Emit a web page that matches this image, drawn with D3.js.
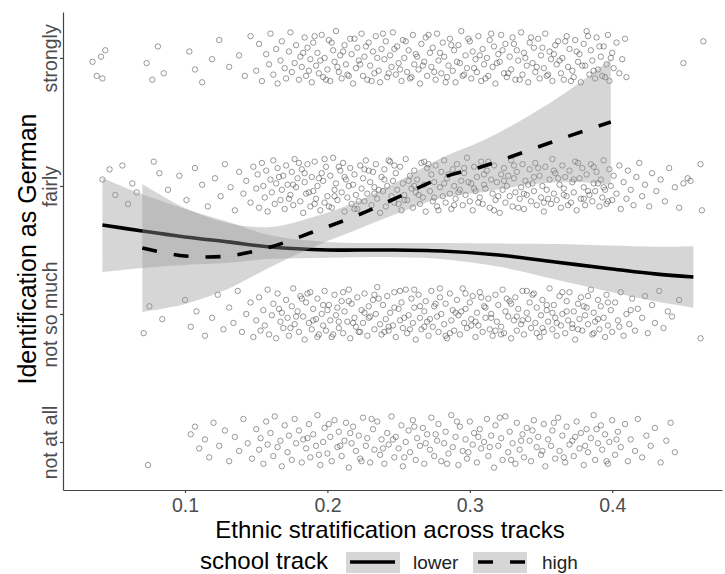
<!DOCTYPE html>
<html><head><meta charset="utf-8">
<script src="https://cdnjs.cloudflare.com/ajax/libs/d3/7.8.5/d3.min.js"></script>
<style>body{margin:0;background:#fff}svg{display:block;font-family:"Liberation Sans",Arial,sans-serif}</style>
</head><body><svg id="c" width="725" height="574"></svg>
<script>
const xTicks=[0.1,0.2,0.3,0.4];
const yLevels=[1,2,3,4];
const yLabels=["not at all","not so much","fairly","strongly"];
const trackNames=["lower","high"];
const xTitle="Ethnic stratification across tracks";
const yTitle="Identification as German";
const legendTitle="school track";

// smoother: lower track (solid)
const lowerX=[0.042,0.07,0.1,0.13,0.16,0.2,0.24,0.28,0.32,0.36,0.4,0.43,0.457];
const lowerFit=[2.695,2.648,2.602,2.563,2.523,2.5,2.5,2.492,2.461,2.406,2.352,2.313,2.289];
const lowerLo=[2.328,2.36,2.383,2.40,2.43,2.44,2.445,2.43,2.37,2.27,2.17,2.10,2.05];
const lowerHi=[3.063,2.935,2.82,2.72,2.615,2.563,2.555,2.555,2.55,2.547,2.535,2.525,2.53];
// smoother: high track (dashed)
const highX=[0.07,0.1,0.13,0.16,0.19,0.22,0.25,0.28,0.31,0.34,0.37,0.399];
const highFit=[2.516,2.453,2.453,2.523,2.641,2.766,2.914,3.063,3.156,3.273,3.391,3.5];
const highLo=[2.016,2.078,2.195,2.367,2.524,2.657,2.789,2.907,2.953,3.007,3.032,3.008];
const highHi=[3.016,2.828,2.711,2.679,2.758,2.875,3.039,3.219,3.359,3.539,3.75,3.992];

// jittered observations [x, jittered level]
const ptsStrongly=[[.035,3.97],[.038,3.86],[.041,4.01],[.042,3.84],[.044,4.06],[.073,3.96],[.077,3.83],[.081,4.09],[.085,3.88],[.103,4.05],
[.107,3.91],[.112,3.81],[.119,3.99],[.124,4.14],[.131,3.93],[.138,4.02],[.142,3.86],[.146,4.17],
[.150,3.90],[.152,4.11],[.154,3.82],[.157,4.03],[.159,3.95],[.160,4.19],[.162,3.87],[.164,4.07],[.165,3.80],[.167,3.98],
[.168,4.13],[.170,3.92],[.171,3.84],[.173,4.05],[.174,4.20],[.175,3.89],[.177,3.96],[.178,4.10],[.180,3.83],[.181,4.01],
[.182,3.93],[.184,4.16],[.185,3.86],[.186,4.08],[.188,3.99],[.189,3.81],[.190,4.12],[.192,3.94],[.193,4.04],[.194,3.88],
[.196,4.18],[.197,3.85],[.198,4.00],[.200,3.91],[.201,4.14],[.202,3.82],[.204,4.06],[.205,3.97],[.206,4.21],[.208,3.89],
[.209,4.02],[.210,3.84],[.212,4.10],[.213,3.95],[.214,3.87],[.216,4.15],[.217,4.03],[.218,3.80],[.220,3.92],[.221,4.08],
[.222,3.98],[.224,4.19],[.225,3.86],[.226,4.01],[.228,3.83],[.229,4.12],[.230,3.94],[.232,4.05],[.233,3.88],[.234,4.17],
[.236,3.90],[.237,3.81],[.238,4.07],[.240,3.99],[.241,4.13],[.242,3.85],[.244,4.02],[.245,3.93],[.246,4.20],[.248,3.87],
[.249,4.09],[.250,3.96],[.252,3.82],[.253,4.14],[.254,4.00],[.256,3.89],[.257,4.06],[.258,3.84],[.260,4.18],[.261,3.95],
[.262,4.03],[.264,3.91],[.265,3.80],[.266,4.11],[.268,3.97],[.269,4.16],[.270,3.86],[.272,4.04],[.273,3.93],[.274,4.08],
[.276,3.83],[.277,4.19],[.278,3.98],[.280,3.88],[.281,4.12],[.282,4.01],[.284,3.85],[.285,3.94],[.286,4.15],[.288,3.90],
[.289,4.06],[.290,3.81],[.292,4.10],[.293,3.96],[.294,4.21],[.296,3.87],[.297,4.02],[.298,3.92],[.300,4.13],[.301,3.84],
[.302,4.05],[.304,3.99],[.305,3.89],[.306,4.17],[.308,3.82],[.309,4.07],[.310,3.95],[.312,4.00],[.313,3.86],[.314,4.14],
[.316,3.93],[.317,4.09],[.318,3.80],[.320,4.03],[.321,3.97],[.322,4.18],[.324,3.88],[.325,4.11],[.326,3.85],[.328,4.01],
[.329,3.91],[.330,4.16],[.332,3.83],[.333,4.06],[.334,3.98],[.336,4.20],[.337,3.87],[.338,4.04],[.340,3.94],[.341,3.81],
[.342,4.12],[.344,3.96],[.345,4.08],[.346,3.89],[.348,4.15],[.349,3.84],[.350,4.02],[.352,3.92],[.353,4.19],[.354,3.86],
[.356,4.05],[.357,3.99],[.358,3.82],[.360,4.10],[.361,3.95],[.362,4.13],[.364,3.88],[.365,4.00],[.366,3.83],[.368,4.17],
[.369,3.93],[.370,4.07],[.372,3.90],[.373,3.85],[.374,4.14],[.376,3.97],[.377,4.03],[.378,3.81],[.380,4.11],[.381,3.94],
[.382,4.21],[.384,3.87],[.385,4.06],[.386,3.98],[.388,3.84],[.389,4.16],[.390,3.91],[.392,4.01],[.393,3.86],[.394,4.09],
[.396,3.95],[.397,4.18],[.398,3.82],[.400,4.04],[.401,3.92],[.403,4.12],[.405,3.88],[.407,3.99],[.409,4.15],[.410,3.85],
[.450,3.96],[.464,4.13],
[.183,4.04],[.187,3.90],[.191,4.17],[.195,3.98],[.199,3.83],[.203,4.12],[.207,3.93],[.211,4.05],[.215,3.86],[.219,4.15],
[.223,3.95],[.227,4.09],[.231,3.82],[.235,4.00],[.239,4.19],[.243,3.88],[.247,4.07],[.251,3.91],[.255,4.13],[.259,3.85],
[.263,4.01],[.267,3.94],[.271,4.18],[.275,3.89],[.279,4.04],[.283,3.81],[.287,4.10],[.291,3.97],[.295,3.86],[.299,4.15],
[.303,3.92],[.307,4.02],[.311,3.84],[.315,4.19],[.319,3.96],[.323,4.06],[.327,3.88],[.331,4.11],[.335,3.83],[.339,4.00],
[.343,4.16],[.347,3.93],[.351,4.08],[.355,3.87],[.359,4.03],[.363,3.98],[.367,4.13],[.371,3.82],[.375,4.05],[.379,3.94],
[.383,4.17],[.387,3.90],[.391,4.09],[.395,3.85],[.399,4.00]];

const ptsFairly=[[.042,3.05],[.047,3.13],[.051,2.93],[.056,3.16],[.060,2.86],[.063,3.02],[.066,2.95],[.078,3.19],[.082,3.10],[.088,2.97],
[.096,3.08],[.101,2.89],[.107,3.14],[.112,3.01],[.116,2.84],[.121,3.06],[.125,2.92],[.128,3.17],[.132,2.99],[.135,2.81],
[.138,3.11],[.141,2.94],[.143,3.04],[.146,2.87],[.148,3.15],
[.150,2.98],[.151,3.09],[.152,2.83],[.154,3.18],[.155,3.00],[.156,2.91],[.157,3.12],[.158,2.80],[.160,3.05],[.161,2.95],
[.162,3.20],[.163,2.86],[.164,3.02],[.165,3.14],[.167,2.89],[.168,2.97],[.169,3.08],[.170,2.82],[.171,3.16],[.172,3.01],
[.174,2.93],[.175,3.11],[.176,2.85],[.177,3.21],[.178,2.99],[.179,3.06],[.181,2.88],[.182,3.13],[.183,2.79],[.184,3.03],
[.185,2.94],[.186,3.17],[.188,2.84],[.189,3.07],[.190,2.96],[.191,3.19],[.192,2.90],[.193,3.00],[.195,2.81],[.196,3.10],
[.197,3.04],[.198,2.87],[.199,3.15],[.200,2.92],[.202,3.08],[.203,2.83],[.204,3.22],[.205,2.97],[.206,3.02],[.207,2.89],
[.209,3.12],[.210,2.95],[.211,3.18],[.212,2.80],[.213,3.05],[.214,2.91],[.216,3.14],[.217,2.86],[.218,3.01],[.219,3.09],
[.220,2.93],[.221,2.82],[.223,3.16],[.224,2.98],[.225,3.06],[.226,2.88],[.227,3.20],[.228,2.94],[.230,3.03],[.231,2.85],
[.232,3.11],[.233,2.99],[.234,3.17],[.235,2.90],[.237,2.79],[.238,3.07],[.239,2.96],[.240,3.13],[.241,2.84],[.242,3.00],
[.244,3.19],[.245,2.92],[.246,3.04],[.247,2.87],[.248,3.10],[.249,2.97],[.251,3.15],[.252,2.81],[.253,3.02],[.254,2.93],
[.255,3.21],[.256,2.89],[.258,3.08],[.259,2.98],[.260,2.83],[.261,3.12],[.262,2.95],[.263,3.05],[.265,2.86],[.266,3.18],
[.267,2.91],[.268,3.01],[.269,2.80],[.270,3.14],[.272,2.96],[.273,3.09],[.274,2.88],[.275,3.03],[.276,3.16],[.277,2.84],
[.279,2.99],[.280,3.11],[.281,2.92],[.282,3.20],[.283,2.87],[.284,3.06],[.286,2.94],[.287,2.82],[.288,3.13],[.289,3.00],
[.290,2.90],[.291,3.17],[.293,2.97],[.294,3.04],[.295,2.85],[.296,3.10],[.297,2.93],[.298,3.22],[.300,2.88],[.301,3.02],
[.302,2.81],[.303,3.15],[.304,2.96],[.305,3.07],[.307,2.91],[.308,3.19],[.309,2.86],[.310,3.01],[.311,2.98],[.312,3.12],
[.314,2.83],[.315,3.05],[.316,2.94],[.317,3.16],[.318,2.89],[.319,3.03],[.321,2.79],[.322,3.09],[.323,2.97],[.324,3.14],
[.325,2.87],[.326,3.00],[.328,2.92],[.329,3.20],[.330,2.84],[.331,3.06],[.332,2.95],[.333,3.11],[.335,2.90],[.336,2.99],
[.337,3.17],[.338,2.82],[.339,3.04],[.340,2.93],[.342,3.13],[.343,2.88],[.344,3.02],[.345,2.96],[.346,3.18],[.347,2.85],
[.349,3.08],[.350,2.91],[.351,3.00],[.352,2.80],[.353,3.15],[.354,2.97],[.356,3.05],[.357,2.86],[.358,3.21],[.359,2.94],
[.360,3.10],[.361,2.89],[.363,3.01],[.364,2.83],[.365,3.16],[.366,2.98],[.367,3.07],[.368,2.92],[.370,3.12],[.371,2.87],
[.372,3.03],[.373,2.95],[.374,3.19],[.375,2.81],[.377,3.06],[.378,2.90],[.379,3.14],[.380,2.99],[.381,2.85],[.382,3.09],
[.384,2.93],[.385,3.17],[.386,2.88],[.387,3.02],[.388,2.96],[.389,3.11],[.391,2.84],[.392,3.05],[.393,2.91],[.394,3.20],
[.395,2.97],[.396,2.86],[.398,3.13],[.399,3.00],[.400,2.89],[.401,3.08],
[.403,2.94],[.405,3.16],[.406,2.82],[.408,3.03],[.410,2.90],[.411,3.12],[.413,2.97],[.415,2.85],[.417,3.07],[.419,3.18],
[.421,2.92],[.423,3.01],[.426,2.84],[.428,3.10],[.431,2.96],[.434,3.05],[.437,2.88],[.440,3.14],[.444,2.99],[.447,2.83],
[.450,3.02],[.453,3.06],[.455,3.04],[.462,3.17],[.463,2.81],
[.166,3.07],[.173,2.90],[.180,3.18],[.187,2.95],[.194,3.06],[.201,2.84],[.208,3.15],[.215,3.00],[.222,2.88],[.229,3.12],
[.236,2.97],[.243,3.20],[.250,2.86],[.257,3.04],[.264,2.93],[.271,3.17],[.278,2.81],[.285,3.09],[.292,2.95],[.299,3.03],
[.306,2.87],[.313,3.19],[.320,2.92],[.327,3.08],[.334,2.83],[.341,3.01],[.348,3.14],[.355,2.90],[.362,3.06],[.369,2.85],
[.376,3.18],[.383,2.96],[.390,3.02],[.397,2.88],
[.176,3.01],[.184,3.10],[.191,2.86],[.198,3.21],[.205,2.92],[.212,3.07],[.219,2.82],[.226,3.13],[.233,2.94],[.240,3.05],
[.247,3.16],[.254,2.89],[.261,3.00],[.268,3.19],[.275,2.91],[.282,3.02],[.289,2.85],[.296,3.14],[.303,2.98],[.310,3.09],
[.317,2.81],[.324,3.04],[.331,3.16],[.338,2.94],[.345,3.07],[.352,2.87],[.359,3.12],[.366,2.93],[.373,3.05],[.380,2.90],
[.387,3.15],[.394,2.99]];

const ptsNotSoMuch=[[.071,1.85],[.075,2.06],[.084,1.96],[.100,2.11],[.104,1.90],[.108,2.02],[.114,1.83],[.119,1.97],[.123,2.15],[.127,1.88],
[.131,2.05],[.134,1.93],[.137,2.18],[.140,1.86],[.143,2.00],[.146,2.09],[.148,1.82],
[.150,1.95],[.152,2.13],[.153,1.87],[.155,2.03],[.156,1.91],[.158,2.19],[.159,1.84],[.161,1.99],[.162,2.08],[.164,1.81],
[.165,2.16],[.167,1.94],[.168,2.01],[.169,1.89],[.171,2.11],[.172,1.97],[.173,1.83],[.175,2.06],[.176,2.20],[.177,1.92],
[.179,2.02],[.180,1.86],[.181,2.14],[.183,1.98],[.184,1.80],[.185,2.09],[.187,1.93],[.188,2.17],[.189,1.88],[.190,2.04],
[.192,1.96],[.193,2.12],[.194,1.84],[.196,2.00],[.197,1.91],[.198,2.18],[.199,1.87],[.201,2.07],[.202,1.95],[.203,1.82],
[.205,2.15],[.206,1.99],[.207,2.05],[.208,1.89],[.210,2.10],[.211,1.85],[.212,2.02],[.214,1.94],[.215,2.19],[.216,1.81],
[.217,2.08],[.219,1.97],[.220,1.90],[.221,2.13],[.223,1.86],[.224,2.03],[.225,1.93],[.226,2.16],[.228,1.83],[.229,2.06],
[.230,1.98],[.232,2.11],[.233,1.88],[.234,2.00],[.235,2.21],[.237,1.92],[.238,1.84],[.239,2.07],[.241,1.96],[.242,2.14],
[.243,1.87],[.244,2.01],[.246,1.91],[.247,2.17],[.248,1.82],[.250,2.04],[.251,1.95],[.252,2.09],[.253,1.89],[.255,2.19],
[.256,1.85],[.257,1.99],[.259,2.12],[.260,1.93],[.261,2.05],[.262,1.80],[.264,2.15],[.265,1.97],[.266,1.88],[.268,2.02],
[.269,2.10],[.270,1.94],[.271,1.83],[.273,2.18],[.274,1.90],[.275,2.06],[.277,1.98],[.278,1.86],[.279,2.13],[.280,2.00],
[.282,1.92],[.283,2.08],[.284,1.81],[.286,2.16],[.287,1.95],[.288,2.03],[.289,1.87],[.291,2.11],[.292,1.99],[.293,1.84],
[.295,2.20],[.296,1.93],[.297,2.04],[.298,1.89],[.300,2.09],[.301,1.96],[.302,2.14],[.304,1.82],[.305,2.01],[.306,1.91],
[.307,2.17],[.309,1.86],[.310,2.06],[.311,1.97],[.313,2.12],[.314,1.88],[.315,2.00],[.316,1.83],[.318,2.15],[.319,1.94],
[.320,2.07],[.322,1.90],[.323,2.19],[.324,1.85],[.325,2.02],[.327,1.98],[.328,2.10],[.329,1.81],[.331,1.95],[.332,2.13],
[.333,1.87],[.334,2.04],[.336,1.92],[.337,2.18],[.338,1.84],[.340,2.01],[.341,1.96],[.342,2.09],[.343,1.89],[.345,2.16],
[.346,1.93],[.347,2.05],[.349,1.82],[.350,1.99],[.351,2.11],[.352,1.86],[.354,2.03],[.355,1.94],[.356,2.20],[.358,1.88],
[.359,2.07],[.360,1.97],[.361,1.83],[.363,2.14],[.364,1.91],[.365,2.00],[.367,1.85],[.368,2.10],[.369,1.95],[.370,2.17],
[.372,1.89],[.373,2.02],[.374,1.80],[.376,2.08],[.377,1.96],[.378,2.13],[.379,1.87],[.381,1.99],[.382,2.05],[.383,1.92],
[.385,2.19],[.386,1.84],[.387,2.01],[.388,1.94],[.390,2.11],[.391,1.88],[.392,2.06],[.394,1.97],[.395,1.82],[.396,2.15],
[.397,1.91],[.399,2.03],[.400,1.86],[.402,2.09],[.404,1.95],[.406,2.17],[.408,1.83],[.410,2.00],[.412,1.92],[.414,2.12],
[.416,1.87],[.418,2.04],[.421,1.97],[.423,2.14],[.425,1.85],[.428,2.07],[.430,1.93],[.433,2.18],[.436,1.89],[.439,2.02],
[.442,1.98],[.447,2.11],[.462,1.81],
[.166,2.04],[.174,1.89],[.182,2.12],[.190,1.95],[.197,2.07],[.204,1.84],[.211,2.17],[.218,1.93],[.226,2.01],[.233,2.15],
[.240,1.86],[.247,2.05],[.254,1.97],[.261,2.19],[.268,1.90],[.276,2.08],[.283,1.83],[.290,2.01],[.297,2.16],[.304,1.94],
[.311,2.05],[.318,1.87],[.326,2.12],[.333,1.98],[.340,2.18],[.347,1.85],[.354,2.07],[.361,1.93],[.368,2.02],[.376,1.88],
[.383,2.14],[.390,1.96],[.397,2.09],[.405,1.90],[.413,2.03],
[.178,1.98],[.186,2.16],[.193,1.82],[.200,2.03],[.208,1.94],[.215,2.10],[.222,1.86],[.229,1.97],[.236,2.12],[.243,1.90],
[.251,2.18],[.258,1.88],[.265,2.06],[.272,1.96],[.279,2.20],[.286,1.85],[.294,2.02],[.301,1.91],[.308,2.13],[.315,1.97],
[.322,1.84],[.329,2.08],[.337,1.95],[.344,2.15],[.351,1.89],[.358,2.01],[.365,2.17],[.372,1.92],[.380,2.06],[.387,1.85]];

const ptsNotAtAll=[[.074,0.82],[.104,1.06],[.107,1.12],[.110,0.95],[.114,1.02],[.117,0.88],[.120,1.15],[.124,0.97],[.128,1.09],[.131,0.85],
[.135,1.04],[.138,0.93],[.141,1.18],[.144,0.99],[.147,0.87],
[.150,1.10],[.152,0.94],[.153,1.03],[.155,0.83],[.157,1.16],[.158,0.98],[.160,1.07],[.162,0.89],[.163,1.20],[.165,0.96],
[.167,1.01],[.168,0.81],[.170,1.13],[.172,0.92],[.173,1.05],[.175,0.86],[.177,1.18],[.178,0.99],[.180,1.09],[.182,0.84],
[.183,1.02],[.185,0.95],[.187,1.14],[.188,0.88],[.190,1.06],[.192,0.97],[.193,1.21],[.195,0.82],[.197,1.00],[.198,1.11],
[.200,0.91],[.202,1.04],[.203,0.85],[.205,1.17],[.207,0.96],[.208,1.08],[.210,0.89],[.212,1.01],[.213,1.15],[.215,0.80],
[.217,0.99],[.218,1.12],[.220,0.93],[.222,1.05],[.223,0.87],[.225,1.19],[.227,0.97],[.228,1.03],[.230,0.84],[.232,1.10],
[.233,0.94],[.235,1.16],[.237,0.90],[.238,1.02],[.240,0.83],[.242,1.07],[.243,0.98],[.245,1.20],[.247,0.88],[.248,1.04],
[.250,0.95],[.252,1.13],[.253,0.81],[.255,1.00],[.257,1.09],[.258,0.92],[.260,1.17],[.262,0.86],[.263,1.03],[.265,0.97],
[.267,1.11],[.268,0.83],[.270,1.06],[.272,0.94],[.273,1.19],[.275,0.89],[.277,1.01],[.278,1.14],[.280,0.85],[.282,0.99],
[.283,1.08],[.285,0.91],[.287,1.21],[.288,0.96],[.290,1.04],[.292,0.82],[.293,1.12],[.295,0.93],[.297,1.02],[.298,0.87],
[.300,1.16],[.302,0.98],[.303,1.07],[.305,0.84],[.307,1.10],[.308,0.95],[.310,1.00],[.312,1.18],[.313,0.89],[.315,1.05],
[.317,0.80],[.318,1.13],[.320,0.97],[.322,1.03],[.323,0.86],[.325,1.20],[.327,0.92],[.328,1.08],[.330,0.99],[.332,0.83],
[.333,1.15],[.335,0.94],[.337,1.06],[.338,0.88],[.340,1.11],[.342,1.01],[.343,0.85],[.345,1.17],[.347,0.96],[.348,1.04],
[.350,0.90],[.352,1.14],[.353,0.81],[.355,1.02],[.357,0.97],[.358,1.09],[.360,0.87],[.362,1.19],[.363,0.93],[.365,1.05],
[.367,0.84],[.368,1.12],[.370,0.98],[.372,1.01],[.373,0.89],[.375,1.16],[.377,0.95],[.378,1.07],[.380,0.82],[.382,1.10],
[.383,0.92],[.385,1.03],[.387,1.21],[.388,0.86],[.390,0.99],[.392,1.13],[.393,0.94],[.395,1.06],[.397,0.83],[.398,1.00],
[.400,1.17],[.402,0.90],[.404,1.08],[.406,0.96],[.409,1.14],[.411,0.85],[.413,1.02],[.416,0.93],[.418,1.18],[.421,0.88],
[.424,1.05],[.427,0.97],[.430,1.11],[.434,0.84],[.438,1.01],[.441,1.15],[.444,0.92],
[.186,1.03],[.194,0.90],[.201,1.14],[.209,0.97],[.216,1.07],[.224,0.85],[.231,1.18],[.239,0.95],[.246,1.02],[.254,0.88],
[.261,1.12],[.269,0.99],[.276,1.06],[.284,0.83],[.291,1.16],[.299,0.92],[.306,1.04],[.314,0.96],[.321,1.19],[.329,0.86],
[.336,1.01],[.344,1.09],[.351,0.93],[.359,1.15],[.366,0.88],[.374,1.04],[.381,0.97],[.389,1.10],[.396,0.85],[.403,1.02]];

const svg=d3.select("#c");
const x=d3.scaleLinear().domain([0.0143,0.4771]).range([63,722]);
const y=d3.scaleLinear().domain([0.625,4.359]).range([490,12]);

// points
const allPts=[].concat(ptsNotAtAll,ptsNotSoMuch,ptsFairly,ptsStrongly);
svg.append("g").selectAll("circle").data(allPts).join("circle")
  .attr("cx",d=>x(d[0])).attr("cy",d=>y(d[1])).attr("r",2.7)
  .attr("fill","none").attr("stroke","#333").attr("stroke-opacity",0.7).attr("stroke-width",0.7);

function band(xs,fit,lo,hi){return xs.map((v,i)=>({x:v,fit:fit[i],lo:lo[i],hi:hi[i]}));}
const lowerData=band(lowerX,lowerFit,lowerLo,lowerHi);
const highData=band(highX,highFit,highLo,highHi);
const area=d3.area().x(d=>x(d.x)).y0(d=>y(d.lo)).y1(d=>y(d.hi)).curve(d3.curveCatmullRom);
const line=d3.line().x(d=>x(d.x)).y(d=>y(d.fit)).curve(d3.curveCatmullRom);

svg.append("path").attr("d",area(lowerData)).attr("fill","#999").attr("fill-opacity",0.4);
svg.append("path").attr("d",line(lowerData)).attr("fill","none").attr("stroke","#000").attr("stroke-width",3.6);
svg.append("path").attr("d",area(highData)).attr("fill","#999").attr("fill-opacity",0.4);
svg.append("path").attr("d",line(highData)).attr("fill","none").attr("stroke","#000").attr("stroke-width",3.6).attr("stroke-dasharray","15 17");

// axes
const axCol="#444";
const gx=svg.append("g").attr("transform","translate(0,490)")
  .call(d3.axisBottom(x).tickValues(xTicks).tickSize(3).tickSizeOuter(0).tickPadding(5).tickFormat(d3.format(".1f")));
const gy=svg.append("g").attr("transform","translate(63,0)")
  .call(d3.axisLeft(y).tickValues(yLevels).tickSize(3).tickSizeOuter(0).tickFormat((d,i)=>yLabels[i]));
[gx,gy].forEach(g=>{g.select(".domain").attr("stroke",axCol).attr("stroke-width",1.2);
  g.selectAll(".tick line").attr("stroke",axCol).attr("stroke-width",1.2);
  g.selectAll(".tick text").attr("fill","#4d4d4d").attr("font-size",19.5).attr("font-family","Liberation Sans, Arial, sans-serif");});
gy.selectAll(".tick text").attr("x",null).attr("dy",null).attr("text-anchor","middle").attr("transform","translate(-6,0) rotate(-90)");

// titles
svg.append("text").attr("x",390).attr("y",538).attr("text-anchor","middle").attr("font-size",24).attr("fill","#000").text(xTitle);
svg.append("text").attr("transform","translate(36,249) rotate(-90)").attr("text-anchor","middle").attr("font-size",25).attr("fill","#000").text(yTitle);

// legend
svg.append("text").attr("x",200).attr("y",569).attr("font-size",24).attr("fill","#000").text(legendTitle);
const keyX=[346,473], labX=[413,542], dashes=[null,"15 17"];
trackNames.forEach((n,i)=>{
  svg.append("rect").attr("x",keyX[i]).attr("y",552).attr("width",54).attr("height",21).attr("fill","#999").attr("fill-opacity",0.4);
  svg.append("line").attr("x1",keyX[i]+(i?5:4)).attr("x2",keyX[i]+(i?52:49)).attr("y1",562).attr("y2",562)
    .attr("stroke","#000").attr("stroke-width",3.6).attr("stroke-dasharray",dashes[i]);
  svg.append("text").attr("x",labX[i]).attr("y",569).attr("font-size",19).attr("fill","#222").text(n);
});
</script></body></html>
